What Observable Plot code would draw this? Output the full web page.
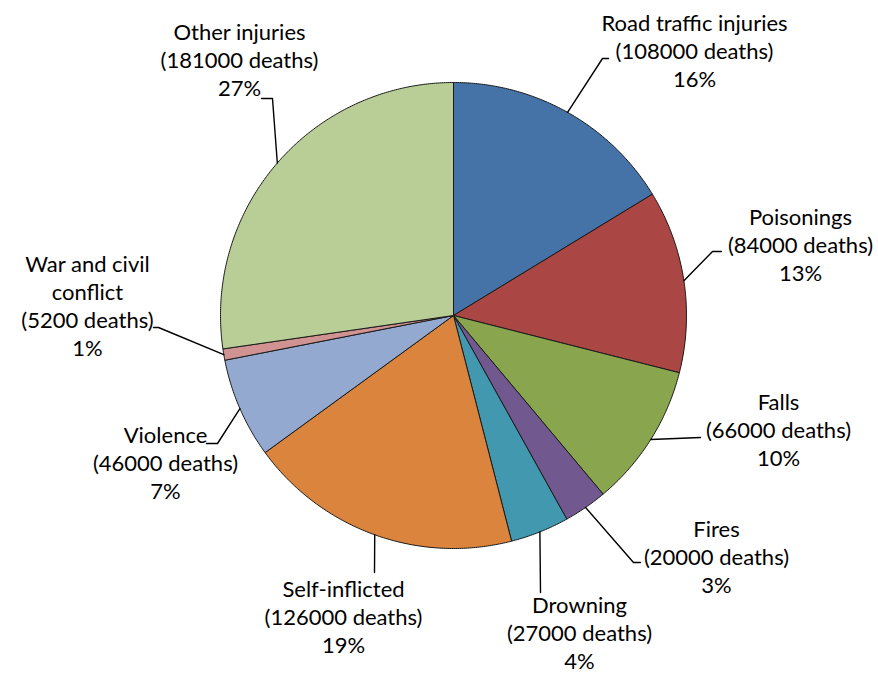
<!DOCTYPE html>
<html>
<head>
<meta charset="utf-8">
<script src="https://cdn.jsdelivr.net/npm/d3@7"></script>
<script src="https://cdn.jsdelivr.net/npm/@observablehq/plot@0.6"></script>
<style>
  html, body { margin: 0; padding: 0; background: #fff; }
</style>
</head>
<body>
<div id="chart"></div>
<script>
// ---- Data ----
const categories = ["Road traffic injuries", "Poisonings", "Falls", "Fires", "Drowning",
                    "Self-inflicted", "Violence", "War and civil conflict", "Other injuries"];
const labelNames = ["Road traffic injuries", "Poisonings", "Falls", "Fires", "Drowning",
                    "Self-inflicted", "Violence", "War and civil\nconflict", "Other injuries"];
const deaths = [108000, 84000, 66000, 20000, 27000, 126000, 46000, 5200, 181000];
const colors = ["#4572A7", "#AA4643", "#89A54E", "#71588F", "#4198AF",
                "#DB843D", "#93A9CF", "#D19392", "#B9CD96"];

// ---- Layout (pixels) ----
const W = 878, H = 673;
const CX = 453, CY = 315, R = 233;
const FS = 22, LH = 28;
// label centre x, first-line baseline y, leader elbow & end points
const labelLayout = [
  {x: 694, base: 31,  elbow: [602, 58],  end: [608, 58]},
  {x: 800, base: 225, elbow: [712, 251], end: [721, 251]},
  {x: 778, base: 410, elbow: [700, 437], end: [700, 437]},
  {x: 716, base: 537, elbow: [633, 562], end: [640, 562]},
  {x: 579, base: 613, elbow: [540, 592], end: [540, 592]},
  {x: 343, base: 597, elbow: [374, 572], end: [374, 572]},
  {x: 165, base: 443, elbow: [217, 443], end: [206, 443]},
  {x: 87,  base: 272, elbow: [158, 327], end: [153, 327]},
  {x: 239, base: 40,  elbow: [272, 98],  end: [261, 98]}
];
const BASE_SHIFT = 4.4 + 0.71 * FS; // offset from baseline to top-anchored line box

const px = v => (v - CX) / R;
const py = v => (CY - v) / R;

const total = d3.sum(deaths);
let cum = 0;
const slices = categories.map((name, i) => {
  const a0 = cum / total * 2 * Math.PI;
  cum += deaths[i];
  const a1 = cum / total * 2 * Math.PI;
  return {name, value: deaths[i], color: colors[i], a0, a1, mid: (a0 + a1) / 2,
          pct: Math.round(deaths[i] / total * 100)};
});

// polygon vertices for each slice (unit circle, clockwise from 12 o'clock)
const slicePts = [];
slices.forEach(s => {
  slicePts.push({name: s.name, color: s.color, x: 0, y: 0});
  const n = Math.max(2, Math.ceil((s.a1 - s.a0) / (Math.PI / 360)));
  for (let k = 0; k <= n; k++) {
    const a = s.a0 + (s.a1 - s.a0) * k / n;
    slicePts.push({name: s.name, color: s.color, x: Math.sin(a), y: Math.cos(a)});
  }
  slicePts.push({name: s.name, color: s.color, x: 0, y: 0});
});

// leader lines
const leaderPts = [];
slices.forEach((s, i) => {
  const L = labelLayout[i];
  leaderPts.push({name: s.name, x: Math.sin(s.mid), y: Math.cos(s.mid)});
  leaderPts.push({name: s.name, x: px(L.elbow[0]), y: py(L.elbow[1])});
  leaderPts.push({name: s.name, x: px(L.end[0]), y: py(L.end[1])});
});

// labels
const labels = slices.map((s, i) => ({
  text: `${labelNames[i]}\n(${s.value} deaths)\n${s.pct}%`,
  x: px(labelLayout[i].x),
  y: py(labelLayout[i].base - BASE_SHIFT)
}));

const chart = Plot.plot({
  width: W, height: H,
  margin: 0,
  x: {domain: [px(0), px(W)], axis: null},
  y: {domain: [py(H), py(0)], axis: null},
  color: {type: "identity"},
  style: {fontFamily: "Lato, 'Open Sans', sans-serif", background: "#fff"},
  marks: [
    Plot.line(slicePts, {x: "x", y: "y", z: "name", fill: "color", stroke: "#1a1a1a",
                         strokeWidth: 1, strokeLinejoin: "round", curve: "linear"}),
    Plot.line(leaderPts, {x: "x", y: "y", z: "name", stroke: "#000", strokeWidth: 1.4}),
    Plot.text(labels, {x: "x", y: "y", text: "text", fontSize: FS, lineHeight: LH / FS,
                       textAnchor: "middle", lineAnchor: "top", fill: "#000", fontWeight: 400})
  ]
});
document.getElementById("chart").appendChild(chart);
</script>
</body>
</html>
